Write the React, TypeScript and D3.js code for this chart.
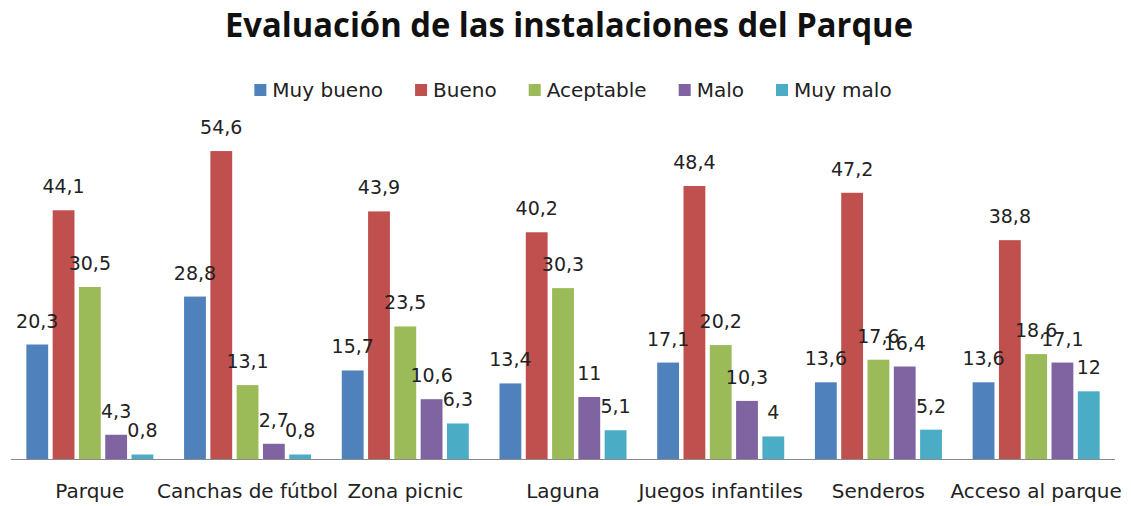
import React, { useEffect, useRef } from "react";
import * as d3 from "d3";

const categories = ["Parque", "Canchas de fútbol", "Zona picnic", "Laguna", "Juegos infantiles", "Senderos", "Acceso al parque"];
const seriesNames = ["Muy bueno", "Bueno", "Aceptable", "Malo", "Muy malo"];
const seriesColors = ["#4F81BD", "#C0504D", "#9BBB59", "#8064A2", "#4BACC6"];
const muyBueno = [20.3, 28.8, 15.7, 13.4, 17.1, 13.6, 13.6];
const bueno = [44.1, 54.6, 43.9, 40.2, 48.4, 47.2, 38.8];
const aceptable = [30.5, 13.1, 23.5, 30.3, 20.2, 17.6, 18.6];
const malo = [4.3, 2.7, 10.6, 11, 10.3, 16.4, 17.1];
const muyMalo = [0.8, 0.8, 6.3, 5.1, 4, 5.2, 12];
const seriesValues = [muyBueno, bueno, aceptable, malo, muyMalo];
const title = "Evaluación de las instalaciones del Parque";

const W = 1131;
const H = 506;

export default function App() {
  const ref = useRef<SVGSVGElement | null>(null);

  useEffect(() => {
    const svg = d3.select(ref.current);
    svg.selectAll("*").remove();

    const left = 11, right = 1115, baseline = 459;
    const x0 = d3.scaleBand<string>().domain(categories).range([left, right]).padding(0);
    const groupW = 127;
    const x1 = d3.scaleBand<string>().domain(seriesNames)
      .range([(x0.bandwidth() - groupW) / 2, (x0.bandwidth() + groupW) / 2])
      .paddingInner(0.17).paddingOuter(0);
    const y = d3.scaleLinear().domain([0, 60]).range([baseline, baseline - 60 * 5.64]);

    // title
    svg.append("text")
      .attr("x", 569).attr("y", 37)
      .attr("text-anchor", "middle")
      .attr("font-family", "'Open Sans', sans-serif")
      .attr("font-weight", "bold")
      .attr("font-size", 34)
      .attr("fill", "#111")
      .attr("textLength", 688)
      .attr("lengthAdjust", "spacingAndGlyphs")
      .text(title);

    // legend
    const legend = svg.append("g");
    const items = legend.selectAll("g").data(seriesNames).join("g");
    items.append("rect").attr("width", 12).attr("height", 12).attr("y", 84)
      .attr("fill", (_d, i) => seriesColors[i]);
    items.append("text").attr("y", 97)
      .attr("font-family", "'DejaVu Sans', sans-serif").attr("font-size", 20)
      .attr("fill", "#222").text(d => d);
    let widths: number[] = [];
    items.select("text").each(function () {
      widths.push((this as SVGTextElement).getComputedTextLength());
    });
    const sqGap = 6, itemGap = 32;
    const total = d3.sum(widths) + seriesNames.length * (12 + sqGap) + (seriesNames.length - 1) * itemGap;
    let cx = 573 - total / 2;
    items.each(function (_d, i) {
      const g = d3.select(this);
      g.select("rect").attr("x", cx);
      g.select("text").attr("x", cx + 12 + sqGap);
      cx += 12 + sqGap + widths[i] + itemGap;
    });

    // bars
    const groups = svg.append("g").selectAll("g").data(categories).join("g")
      .attr("transform", d => `translate(${x0(d)},0)`);
    groups.each(function (_c, ci) {
      const g = d3.select(this);
      seriesNames.forEach((s, si) => {
        const v = seriesValues[si][ci];
        g.append("rect")
          .attr("x", x1(s)!)
          .attr("width", x1.bandwidth())
          .attr("y", y(v))
          .attr("height", baseline - y(v))
          .attr("fill", seriesColors[si]);
      });
      seriesNames.forEach((s, si) => {
        const v = seriesValues[si][ci];
        g.append("text")
          .attr("x", x1(s)! + x1.bandwidth() / 2)
          .attr("y", y(v) - 17)
          .attr("text-anchor", "middle")
          .attr("font-family", "'DejaVu Sans', sans-serif")
          .attr("font-size", 19)
          .attr("fill", "#222")
          .text(String(v).replace(".", ","));
      });
    });

    // axis line
    svg.append("line").attr("x1", left).attr("x2", right)
      .attr("y1", baseline + 0.5).attr("y2", baseline + 0.5)
      .attr("stroke", "#8a8a8a").attr("stroke-width", 1.2);

    // category labels
    svg.append("g").selectAll("text").data(categories).join("text")
      .attr("x", d => x0(d)! + x0.bandwidth() / 2)
      .attr("y", 498)
      .attr("text-anchor", "middle")
      .attr("font-family", "'DejaVu Sans', sans-serif")
      .attr("font-size", 20)
      .attr("fill", "#222")
      .text(d => d);
  }, []);

  return (
    <svg ref={ref} width={W} height={H}
      style={{ position: "absolute", left: 0, top: 0, background: "#fff" }} />
  );
}
